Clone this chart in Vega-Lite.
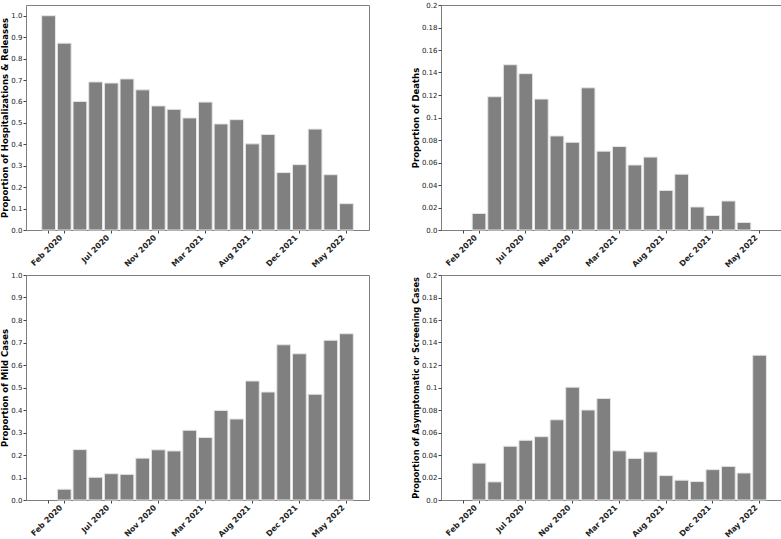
{
  "$schema": "https://vega.github.io/schema/vega-lite/v6.json",
  "padding": {"left": 0, "top": 0, "right": 0, "bottom": 0},
  "background": "white",
  "datasets": {
    "bars": [
      {"pos": 0, "measure": "hosp", "value": 1.0},
      {"pos": 1, "measure": "hosp", "value": 0.872},
      {"pos": 2, "measure": "hosp", "value": 0.600},
      {"pos": 3, "measure": "hosp", "value": 0.691},
      {"pos": 4, "measure": "hosp", "value": 0.686},
      {"pos": 5, "measure": "hosp", "value": 0.705},
      {"pos": 6, "measure": "hosp", "value": 0.654},
      {"pos": 7, "measure": "hosp", "value": 0.579},
      {"pos": 8, "measure": "hosp", "value": 0.563},
      {"pos": 9, "measure": "hosp", "value": 0.523},
      {"pos": 10, "measure": "hosp", "value": 0.597},
      {"pos": 11, "measure": "hosp", "value": 0.495},
      {"pos": 12, "measure": "hosp", "value": 0.515},
      {"pos": 13, "measure": "hosp", "value": 0.402},
      {"pos": 14, "measure": "hosp", "value": 0.446},
      {"pos": 15, "measure": "hosp", "value": 0.268},
      {"pos": 16, "measure": "hosp", "value": 0.305},
      {"pos": 17, "measure": "hosp", "value": 0.471},
      {"pos": 18, "measure": "hosp", "value": 0.258},
      {"pos": 19, "measure": "hosp", "value": 0.123},
      {"pos": 1, "measure": "deaths", "value": 0.0147},
      {"pos": 2, "measure": "deaths", "value": 0.1185},
      {"pos": 3, "measure": "deaths", "value": 0.1469},
      {"pos": 4, "measure": "deaths", "value": 0.139},
      {"pos": 5, "measure": "deaths", "value": 0.1164},
      {"pos": 6, "measure": "deaths", "value": 0.0836},
      {"pos": 7, "measure": "deaths", "value": 0.078},
      {"pos": 8, "measure": "deaths", "value": 0.1264},
      {"pos": 9, "measure": "deaths", "value": 0.0701},
      {"pos": 10, "measure": "deaths", "value": 0.0742},
      {"pos": 11, "measure": "deaths", "value": 0.0578},
      {"pos": 12, "measure": "deaths", "value": 0.0648},
      {"pos": 13, "measure": "deaths", "value": 0.0352},
      {"pos": 14, "measure": "deaths", "value": 0.0496},
      {"pos": 15, "measure": "deaths", "value": 0.0205},
      {"pos": 16, "measure": "deaths", "value": 0.0129},
      {"pos": 17, "measure": "deaths", "value": 0.0258},
      {"pos": 18, "measure": "deaths", "value": 0.0067},
      {"pos": 1, "measure": "mild", "value": 0.048},
      {"pos": 2, "measure": "mild", "value": 0.224},
      {"pos": 3, "measure": "mild", "value": 0.101},
      {"pos": 4, "measure": "mild", "value": 0.117},
      {"pos": 5, "measure": "mild", "value": 0.114},
      {"pos": 6, "measure": "mild", "value": 0.186},
      {"pos": 7, "measure": "mild", "value": 0.223},
      {"pos": 8, "measure": "mild", "value": 0.218},
      {"pos": 9, "measure": "mild", "value": 0.310},
      {"pos": 10, "measure": "mild", "value": 0.278},
      {"pos": 11, "measure": "mild", "value": 0.398},
      {"pos": 12, "measure": "mild", "value": 0.360},
      {"pos": 13, "measure": "mild", "value": 0.529},
      {"pos": 14, "measure": "mild", "value": 0.480},
      {"pos": 15, "measure": "mild", "value": 0.690},
      {"pos": 16, "measure": "mild", "value": 0.650},
      {"pos": 17, "measure": "mild", "value": 0.470},
      {"pos": 18, "measure": "mild", "value": 0.710},
      {"pos": 19, "measure": "mild", "value": 0.739},
      {"pos": 1, "measure": "asym", "value": 0.0328},
      {"pos": 2, "measure": "asym", "value": 0.0161},
      {"pos": 3, "measure": "asym", "value": 0.0478},
      {"pos": 4, "measure": "asym", "value": 0.0531},
      {"pos": 5, "measure": "asym", "value": 0.0563},
      {"pos": 6, "measure": "asym", "value": 0.0713},
      {"pos": 7, "measure": "asym", "value": 0.1003},
      {"pos": 8, "measure": "asym", "value": 0.080},
      {"pos": 9, "measure": "asym", "value": 0.0903},
      {"pos": 10, "measure": "asym", "value": 0.0437},
      {"pos": 11, "measure": "asym", "value": 0.037},
      {"pos": 12, "measure": "asym", "value": 0.0428},
      {"pos": 13, "measure": "asym", "value": 0.0217},
      {"pos": 14, "measure": "asym", "value": 0.0176},
      {"pos": 15, "measure": "asym", "value": 0.0164},
      {"pos": 16, "measure": "asym", "value": 0.027},
      {"pos": 17, "measure": "asym", "value": 0.0299},
      {"pos": 18, "measure": "asym", "value": 0.024},
      {"pos": 19, "measure": "asym", "value": 0.1287}
    ]
  },
  "data": {"name": "bars"},
  "columns": 2,
  "spacing": {"row": 0, "column": 40},
  "concat": [
    {
      "width": 343, "height": 225,
      "transform": [{"filter": "datum.measure == 'hosp'"}],
      "mark": {"type": "bar", "fill": "#808080", "stroke": "#e6e6e6", "strokeWidth": 1},
      "encoding": {
        "x": {"field": "pos", "type": "ordinal", "title": null,
              "scale": {"domain": [0,1,2,3,4,5,6,7,8,9,10,11,12,13,14,15,16,17,18,19], "paddingInner": 0.12, "paddingOuter": 1.0},
              "axis": {"values": [0,1,4,7,10,13,16,19], "labelExpr": "['','Feb 2020','','','Jul 2020','','','Nov 2020','','','Mar 2021','','','Aug 2021','','','Dec 2021','','','May 2022'][datum.value]"}},
        "y": {"field": "value", "type": "quantitative", "title": "Proportion of Hospitalizations & Releases",
              "scale": {"domain": [0, 1.05], "nice": false},
              "axis": {"values": [0,0.1,0.2,0.3,0.4,0.5,0.6,0.7,0.8,0.9,1.0], "format": ".1f"}}
      }
    },
    {
      "width": 341, "height": 225,
      "transform": [{"filter": "datum.measure == 'deaths'"}],
      "mark": {"type": "bar", "fill": "#808080", "stroke": "#e6e6e6", "strokeWidth": 1},
      "encoding": {
        "x": {"field": "pos", "type": "ordinal", "title": null,
              "scale": {"domain": [0,1,2,3,4,5,6,7,8,9,10,11,12,13,14,15,16,17,18,19], "paddingInner": 0.12, "paddingOuter": 1.0},
              "axis": {"values": [0,1,4,7,10,13,16,19], "labelExpr": "['','Feb 2020','','','Jul 2020','','','Nov 2020','','','Mar 2021','','','Aug 2021','','','Dec 2021','','','May 2022'][datum.value]"}},
        "y": {"field": "value", "type": "quantitative", "title": "Proportion of Deaths",
              "scale": {"domain": [0, 0.2], "nice": false},
              "axis": {"values": [0,0.02,0.04,0.06,0.08,0.1,0.12,0.14,0.16,0.18,0.2], "labelExpr": "datum.value == 0 ? '0.0' : format(datum.value, '~r')"}}
      }
    },
    {
      "width": 343, "height": 225,
      "transform": [{"filter": "datum.measure == 'mild'"}],
      "mark": {"type": "bar", "fill": "#808080", "stroke": "#e6e6e6", "strokeWidth": 1},
      "encoding": {
        "x": {"field": "pos", "type": "ordinal", "title": null,
              "scale": {"domain": [0,1,2,3,4,5,6,7,8,9,10,11,12,13,14,15,16,17,18,19], "paddingInner": 0.12, "paddingOuter": 1.0},
              "axis": {"values": [0,1,4,7,10,13,16,19], "labelExpr": "['','Feb 2020','','','Jul 2020','','','Nov 2020','','','Mar 2021','','','Aug 2021','','','Dec 2021','','','May 2022'][datum.value]"}},
        "y": {"field": "value", "type": "quantitative", "title": "Proportion of Mild Cases",
              "scale": {"domain": [0, 1.0], "nice": false},
              "axis": {"values": [0,0.1,0.2,0.3,0.4,0.5,0.6,0.7,0.8,0.9,1.0], "format": ".1f"}}
      }
    },
    {
      "width": 341, "height": 225,
      "transform": [{"filter": "datum.measure == 'asym'"}],
      "mark": {"type": "bar", "fill": "#808080", "stroke": "#e6e6e6", "strokeWidth": 1},
      "encoding": {
        "x": {"field": "pos", "type": "ordinal", "title": null,
              "scale": {"domain": [0,1,2,3,4,5,6,7,8,9,10,11,12,13,14,15,16,17,18,19], "paddingInner": 0.12, "paddingOuter": 1.0},
              "axis": {"values": [0,1,4,7,10,13,16,19], "labelExpr": "['','Feb 2020','','','Jul 2020','','','Nov 2020','','','Mar 2021','','','Aug 2021','','','Dec 2021','','','May 2022'][datum.value]"}},
        "y": {"field": "value", "type": "quantitative", "title": "Proportion of Asymptomatic or Screening Cases",
              "scale": {"domain": [0, 0.2], "nice": false},
              "axis": {"values": [0,0.02,0.04,0.06,0.08,0.1,0.12,0.14,0.16,0.18,0.2], "labelExpr": "datum.value == 0 ? '0.0' : format(datum.value, '~r')", "titleFontSize": 8.2}}
      }
    }
  ],
  "config": {
    "view": {"stroke": "#808080", "strokeWidth": 1},
    "axis": {
      "labelFont": "DejaVu Sans", "titleFont": "DejaVu Sans",
      "labelColor": "#222222", "titleColor": "#000000",
      "labelFontSize": 7, "titleFontSize": 8.5, "titleFontWeight": "bold",
      "tickColor": "#444444", "tickSize": 3, "domain": false, "grid": false,
      "labelPadding": 1, "titlePadding": 1
    },
    "axisX": {"labelFontWeight": "bold", "labelFontSize": 7.8, "labelAngle": -45, "labelAlign": "right", "labelBaseline": "bottom", "labelPadding": 6}
  }
}
